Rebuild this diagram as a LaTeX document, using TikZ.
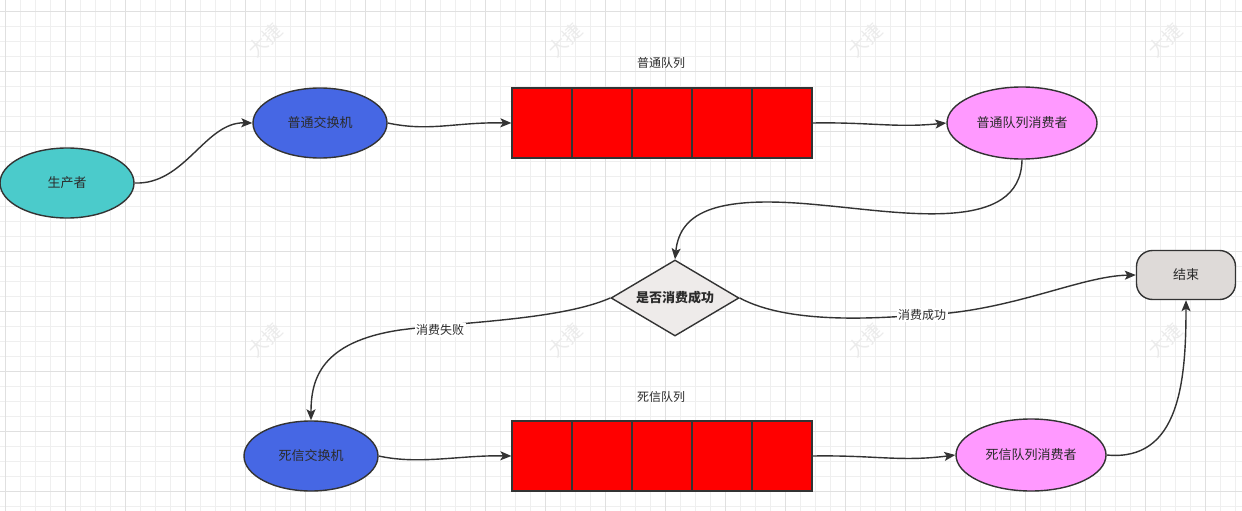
\documentclass[tikz,border=0pt]{standalone}
\usepackage{fontspec}
\newfontfamily\cjk{Noto Sans CJK SC}
\usetikzlibrary{arrows.meta,shapes.geometric}
\definecolor{gridminor}{HTML}{EFEFEF}
\definecolor{gridmajor}{HTML}{E0E0E0}
\definecolor{teal1}{HTML}{4BCBCB}
\definecolor{blue1}{HTML}{4667E4}
\definecolor{pink1}{HTML}{FF99FF}
\definecolor{dia1}{HTML}{EEEBEA}
\definecolor{end1}{HTML}{DEDAD8}
\definecolor{edge1}{HTML}{333333}
\definecolor{txt1}{HTML}{2B2B2B}
\definecolor{wm}{HTML}{EBEBEB}
\tikzset{
  base/.style={draw=edge1,line width=1.4pt,text=txt1,font=\cjk\fontsize{13}{15}\selectfont,inner sep=0pt},
  ell/.style={base,ellipse,minimum width=134pt,minimum height=70pt},
  ellw/.style={base,ellipse,minimum width=150pt,minimum height=72pt},
  cell/.style={base,rectangle,fill=red,minimum width=60pt,minimum height=70pt,line width=1.2pt},
  dia/.style={base,diamond,fill=dia1,minimum width=128pt,minimum height=76pt,aspect=1.68},
  term/.style={base,rectangle,rounded corners=16pt,fill=end1,minimum width=99pt,minimum height=49pt},
  qlabel/.style={text=txt1,font=\cjk\fontsize{12}{14}\selectfont,inner sep=1pt},
  elabel/.style={text=txt1,font=\cjk\fontsize{12}{14}\selectfont,fill=white,inner sep=1.5pt},
  conn/.style={draw=edge1,line width=1.4pt,-{Stealth[length=11pt,width=9pt,inset=2.5pt]}},
  wmark/.style={text=wm,font=\cjk\fontsize{19}{21}\selectfont,rotate=45}
}
\begin{document}
\begin{tikzpicture}[x=1pt,y=-1pt]
\useasboundingbox (0,0) rectangle (1242,511);
\fill[white] (0,0) rectangle (1242,511);
% grid
\foreach \i in {0,...,82} {\draw[gridminor,line width=0.8pt] ({5+15*\i},0) -- ({5+15*\i},511);}
\foreach \j in {0,...,33} {\draw[gridminor,line width=0.8pt] (0,{11.7+15*\j}) -- (1242,{11.7+15*\j});}
\foreach \i in {0,...,20} {\draw[gridmajor,line width=0.8pt] ({5+60*\i},0) -- ({5+60*\i},511);}
\foreach \j in {0,...,8} {\draw[gridmajor,line width=0.8pt] (0,{11.7+60*\j}) -- (1242,{11.7+60*\j});}
% watermarks
\foreach \wx in {265,565,865,1165} {
  \node[wmark] (wmt\wx) at (\wx,40) {大捷};
  \node[wmark] (wmb\wx) at (\wx,340) {大捷};
}
% nodes
\node[ell,fill=teal1] (prod) at (67,183) {生产者};
\node[ell,fill=blue1] (ex1) at (320,123) {普通交换机};
\foreach \k in {1,...,5} {\node[cell] (qa\k) at ({482+60*\k},123) {};}
\node[qlabel] (qalab) at (661,63) {普通队列};
\node[ellw,fill=pink1] (cons1) at (1022,123) {普通队列消费者};
\node[dia,font=\cjk\bfseries\fontsize{13}{15}\selectfont] (chk) at (675,298) {是否消费成功};
\node[term] (end) at (1186,275) {结束};
\node[ell,fill=blue1] (ex2) at (311,456) {死信交换机};
\foreach \k in {1,...,5} {\node[cell] (qb\k) at ({482+60*\k},456) {};}
\node[qlabel] (qblab) at (661,397) {死信队列};
\node[ellw,fill=pink1] (cons2) at (1031,455) {死信队列消费者};
% connectors
\draw[conn] (prod.east) .. controls (185,185) and (205,122) .. (ex1.west);
\draw[conn] (ex1.east) .. controls (430,132) and (455,122) .. (qa1.west);
\draw[conn] (qa5.east) .. controls (870,122) and (895,128) .. (cons1.west);
\draw[conn] (cons1.south) .. controls (1021,235) and (900,212) .. (820,205) .. controls (720,195) and (680,210) .. (chk.north);
\draw[conn] (chk.west) .. controls (560,320) and (460,322) .. (400,330) .. controls (320,342) and (311,380) .. (ex2.north);
\draw[conn] (chk.east) .. controls (790,325) and (880,318) .. (922,315) .. controls (1010,312) and (1080,276) .. (end.west);
\draw[conn] (ex2.east) .. controls (420,465) and (460,455) .. (qb1.west);
\draw[conn] (qb5.east) .. controls (875,455) and (900,462) .. (cons2.west);
\draw[conn] (cons2.east) .. controls (1180,462) and (1186,380) .. (end.south);
% edge labels
\node[elabel] (lfail) at (440,330) {消费失败};
\node[elabel] (lok) at (922,315) {消费成功};
\end{tikzpicture}
\end{document}
